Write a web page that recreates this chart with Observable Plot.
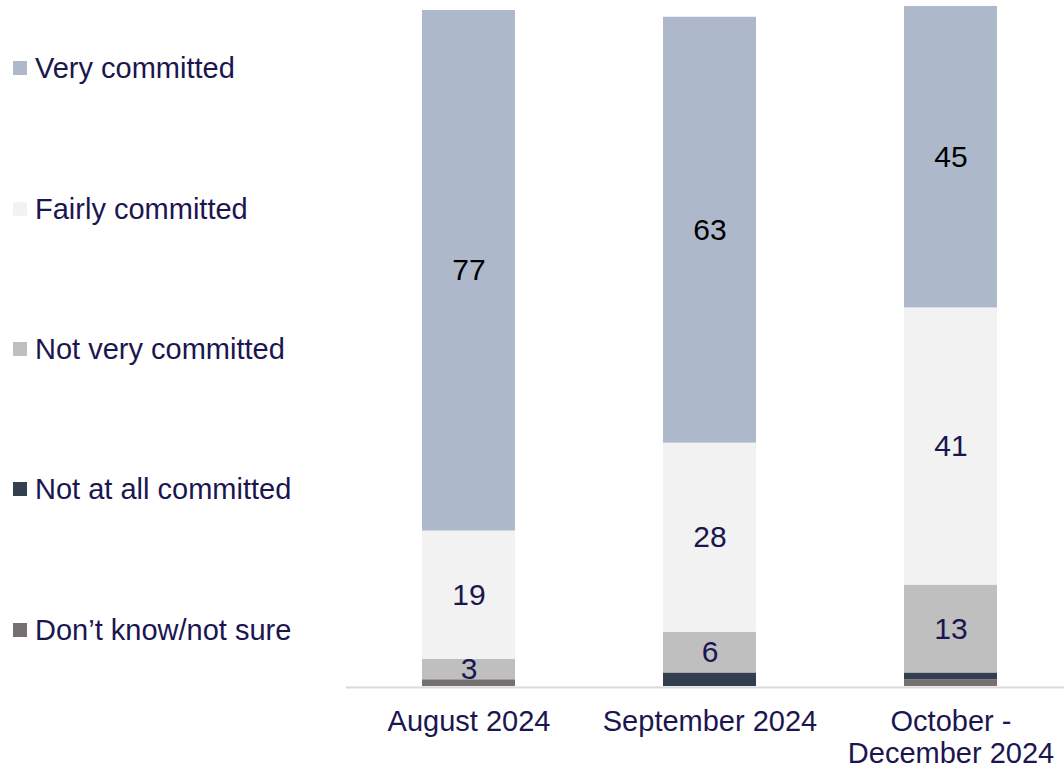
<!DOCTYPE html>
<html>
<head>
<meta charset="utf-8">
<script src="https://cdn.jsdelivr.net/npm/d3@7"></script>
<script src="https://cdn.jsdelivr.net/npm/@observablehq/plot@0.6"></script>
<style>
  html, body { margin: 0; padding: 0; background: #fff; overflow: hidden; width: 1064px; height: 768px; }
  #wrap { position: relative; width: 1064px; height: 768px; overflow: hidden; font-family: "Liberation Sans", Arial, sans-serif; }
  #chart { position: absolute; left: 0; top: 0; width: 1072px; }
  #chart svg { max-width: none !important; }
  .leg { position: absolute; left: 13px; display: flex; align-items: center; height: 34px; font-size: 29px; color: #1b1650; white-space: nowrap; }
  .leg span.sw { display: inline-block; width: 14px; height: 14px; margin-right: 8px; }
</style>
</head>
<body>
<div id="wrap"><div id="chart"></div></div>
<script>
// Categories (x) and their tick labels
const categories = ["August 2024", "September 2024", "October - December 2024"];
const tickLabels = ["August 2024", "September 2024", "October -\nDecember 2024"];

// Series in stacking order (bottom → top)
const seriesNames = ["Don’t know/not sure", "Not at all committed", "Not very committed", "Fairly committed", "Very committed"];
const seriesColors = ["#767171", "#333f50", "#bfbfbf", "#f2f2f2", "#adb9cb"];

// Values (%) per series, one per category
const dontKnow   = [1, 0, 1];
const notAtAll   = [0, 2, 1];
const notVery    = [3, 6, 13];
const fairly     = [19, 28, 41];
const very       = [77, 63, 44.6];

const seriesValues = [dontKnow, notAtAll, notVery, fairly, very];

const data = [];
categories.forEach((c, i) => {
  seriesNames.forEach((s, j) => {
    data.push({category: c, series: s, value: seriesValues[j][i]});
  });
});

const tickMap = Object.fromEntries(categories.map((c, i) => [c, tickLabels[i]]));
const navy = "#1b1650";

const chart = Plot.plot({
  width: 1072,
  height: 768,
  marginLeft: 346,
  marginRight: 0,
  marginTop: 10,
  marginBottom: 82,
  style: {fontFamily: "'Liberation Sans', Arial, sans-serif", background: "transparent", overflow: "visible", maxWidth: "none"},
  x: {domain: categories, paddingInner: 0.616, paddingOuter: 0.31, axis: null},
  y: {domain: [0, 100], axis: null},
  color: {domain: seriesNames, range: seriesColors},
  marks: [
    Plot.barY(data, Plot.stackY({x: "category", y: "value", z: "series", fill: "series", order: seriesNames})),
    Plot.ruleY([0], {stroke: "#d9d9d9", strokeWidth: 2, dy: 1}),
    Plot.text(data, Plot.stackY({
      x: "category", y: "value", z: "series", order: seriesNames,
      text: d => d.series === "Very committed" ? String(Math.round(d.value)) : "",
      fill: "#000", fontSize: 30
    })),
    Plot.text(data, Plot.stackY({
      x: "category", y: "value", z: "series", order: seriesNames,
      text: d => (d.series !== "Very committed" && d.value >= 3) ? String(Math.round(d.value)) : "",
      fill: navy, fontSize: 30
    })),
    Plot.axisX({
      tickSize: 0, tickPadding: 22, fontSize: 29, lineHeight: 1.1,
      tickFormat: d => tickMap[d], fill: navy, label: null
    })
  ]
});
chart.style.maxWidth = "none";
document.getElementById("chart").appendChild(chart);

// Legend (top → bottom: reverse of stacking order)
const legendY = [68, 209, 349, 489, 630];
const wrap = document.getElementById("wrap");
seriesNames.slice().reverse().forEach((s, k) => {
  const color = seriesColors[seriesNames.length - 1 - k];
  const div = document.createElement("div");
  div.className = "leg";
  div.style.top = (legendY[k] - 17) + "px";
  const sw = document.createElement("span");
  sw.className = "sw";
  sw.style.background = color;
  div.appendChild(sw);
  div.appendChild(document.createTextNode(s));
  wrap.appendChild(div);
});
</script>
</body>
</html>
